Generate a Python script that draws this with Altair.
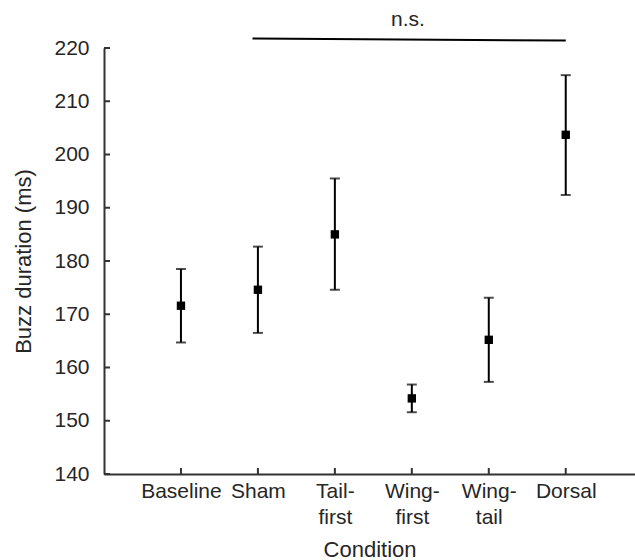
import json
import altair as alt
import pandas as pd

# ---- data ----
CONDITIONS = ["Baseline", "Sham", "Tail-\nfirst", "Wing-\nfirst", "Wing-\ntail", "Dorsal"]
MEANS = [171.6, 174.6, 185.0, 154.2, 165.2, 203.7]
UPPER = [178.5, 182.7, 195.5, 156.8, 173.1, 214.9]
LOWER = [164.7, 166.5, 174.6, 151.6, 157.3, 192.4]

Y_TICKS = [140, 150, 160, 170, 180, 190, 200, 210, 220]
SIG_X = [1.93, 6.0]
SIG_Y = [221.8, 221.4]
SIG_LABEL = "n.s."
SIG_LABEL_X = [3.95]
SIG_LABEL_Y = [225.3]

FONT = "Liberation Sans"
TXT = "#262626"
AX = "#333333"

df = pd.DataFrame({
    "pos": list(range(1, len(CONDITIONS) + 1)),
    "cond": CONDITIONS,
    "mean": MEANS,
    "hi": UPPER,
    "lo": LOWER,
})
sig_df = pd.DataFrame({"x": SIG_X, "y": SIG_Y})
txt_df = pd.DataFrame({"x": SIG_LABEL_X, "y": SIG_LABEL_Y, "t": [SIG_LABEL]})
yt_df = pd.DataFrame({"v": Y_TICKS})
xt_df = pd.DataFrame({"pos": df["pos"]})

label_arr = json.dumps([c.split("\n") for c in CONDITIONS])
label_expr = f"{label_arr}[datum.value - 1]"

xscale = alt.Scale(domain=[0, 6.9], nice=False, zero=False)
yscale = alt.Scale(domain=[140, 220], nice=False, zero=False)

x_axis = alt.Axis(
    values=list(df["pos"]), labelExpr=label_expr, grid=False, ticks=False, tickSize=0,
    labelPadding=6, labelFontSize=21, labelColor=TXT, labelFont=FONT, labelLineHeight=26,
    labelAngle=0, labelBaseline="top",
    title="Condition", titleFontSize=22, titleColor=TXT, titleFont=FONT,
    titleFontWeight="normal", titlePadding=12,
    domainColor=AX, domainWidth=2,
)
y_axis = alt.Axis(
    values=Y_TICKS, grid=False, ticks=False, tickSize=0,
    labelPadding=15, labelFontSize=21, labelColor=TXT, labelFont=FONT,
    title="Buzz duration (ms)", titleFontSize=22, titleColor=TXT, titleFont=FONT,
    titleFontWeight="normal", titlePadding=18,
    domainColor=AX, domainWidth=2,
)

base = alt.Chart(df)

err = base.mark_rule(color="black", strokeWidth=2).encode(
    x=alt.X("pos:Q", scale=xscale, axis=x_axis),
    y=alt.Y("lo:Q", scale=yscale, axis=y_axis),
    y2="hi:Q",
)
cap_hi = base.mark_tick(color="black", orient="horizontal", size=10, thickness=2).encode(
    x=alt.X("pos:Q", scale=xscale), y=alt.Y("hi:Q", scale=yscale)
)
cap_lo = base.mark_tick(color="black", orient="horizontal", size=10, thickness=2).encode(
    x=alt.X("pos:Q", scale=xscale), y=alt.Y("lo:Q", scale=yscale)
)
pts = base.mark_square(color="black", size=70, opacity=1).encode(
    x=alt.X("pos:Q", scale=xscale), y=alt.Y("mean:Q", scale=yscale)
)

ytick = alt.Chart(yt_df).mark_rule(color=AX, strokeWidth=2).encode(
    y=alt.Y("v:Q", scale=yscale), x=alt.value(0), x2=alt.value(6)
)
xtick = alt.Chart(xt_df).mark_rule(color=AX, strokeWidth=2).encode(
    x=alt.X("pos:Q", scale=xscale), y=alt.value(426), y2=alt.value(420)
)

sig = alt.Chart(sig_df).mark_line(color="black", strokeWidth=2).encode(
    x=alt.X("x:Q", scale=xscale), y=alt.Y("y:Q", scale=yscale)
)
sig_txt = alt.Chart(txt_df).mark_text(
    font=FONT, fontSize=21, color=TXT, baseline="middle", align="center"
).encode(
    x=alt.X("x:Q", scale=xscale), y=alt.Y("y:Q", scale=yscale), text="t:N"
)

chart = alt.layer(err, cap_hi, cap_lo, pts, ytick, xtick, sig, sig_txt).properties(
    width=531, height=426,
    autosize=alt.AutoSizeParams(type="none"),
    padding={"left": 104, "top": 48, "right": 0, "bottom": 86},
).configure_view(strokeWidth=0)

chart.save("out.html", embed_options={"renderer": "svg", "actions": False})
